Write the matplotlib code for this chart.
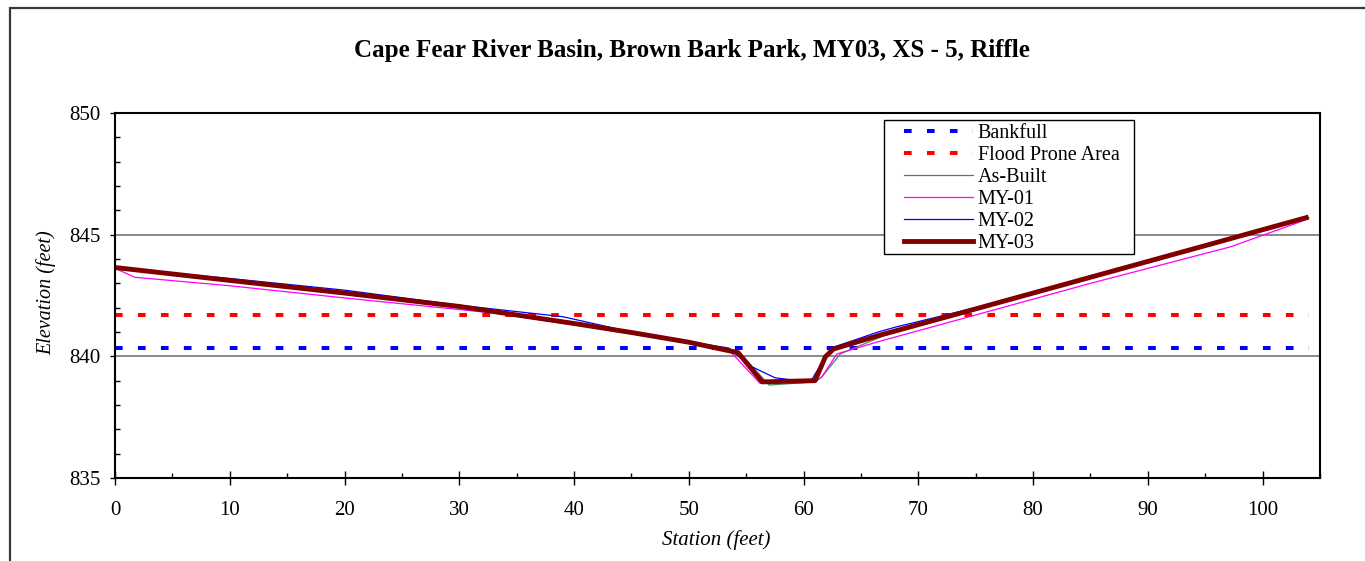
"""Cross-section survey plot: Cape Fear River Basin, Brown Bark Park, XS-5 riffle (MY03)."""
import matplotlib
matplotlib.use("Agg")
import matplotlib.pyplot as plt
from matplotlib.patches import Rectangle
from matplotlib.ticker import MultipleLocator

plt.rcParams["font.family"] = ["Liberation Serif", "DejaVu Serif"]

# survey data (station ft, elevation ft)
bankfull_elev = 840.33
flood_prone_elev = 841.7
ref_station = [0, 104]

asbuilt_sta = [0, 10, 20, 30, 40, 50, 52.7, 54.5, 57.0, 61.0, 61.6, 63.2, 67, 75, 85, 95, 104]
asbuilt_elev = [843.65, 843.1, 842.55, 842.0, 841.3, 840.55, 840.26, 840.1, 838.82, 838.95,
                839.16, 840.1, 840.85, 841.9, 843.2, 844.5, 845.7]

my01_sta = [0, 1.7, 10, 20, 33.2, 45, 50, 53.5, 56.2, 61.0, 61.6, 62.9, 66.5, 75, 85, 97.2, 104]
my01_elev = [843.62, 843.25, 842.9, 842.4, 841.77, 840.95, 840.55, 840.26, 838.89, 838.96,
             839.16, 840.1, 840.6, 841.7, 843.0, 844.5, 845.65]

my02_sta = [0, 10, 20, 30, 39, 45, 50, 53.5, 55.2, 57.5, 59.0, 60.7, 61.8, 62.75, 66.5, 68,
            75, 85, 95, 100, 104]
my02_elev = [843.65, 843.2, 842.72, 842.1, 841.63, 841.0, 840.6, 840.34, 839.64, 839.12,
             839.03, 839.03, 839.9, 840.4, 841.0, 841.2, 842.0, 843.3, 844.6, 845.2, 845.7]

my03_sta = [0, 10, 20, 30, 40, 45, 50, 54.3, 56.4, 61.0, 61.9, 62.6, 66.5, 75, 85, 95, 103.8]
my03_elev = [843.65, 843.12, 842.6, 842.05, 841.35, 840.98, 840.58, 840.15, 838.95, 839.0,
             839.98, 840.3, 840.85, 841.95, 843.25, 844.55, 845.7]

W, H = 1365, 561
fig = plt.figure(figsize=(W / 100, H / 100), dpi=100)
ax = fig.add_axes([115 / W, 1 - 478 / H, (1320 - 115) / W, (478 - 113) / H])

# outer chart frame (left and top edges in view)
fig.patches.append(Rectangle((10 / W, -0.2), 1.5, 1.2 - 8 / H, transform=fig.transFigure,
                             fill=False, edgecolor="#383838", linewidth=1.6))

ax.plot(ref_station, [bankfull_elev] * 2, color="#0000FF", lw=2.9,
        linestyle=(0, (1.9, 3.8)), label="Bankfull")
ax.plot(ref_station, [flood_prone_elev] * 2, color="#FF0000", lw=2.9,
        linestyle=(0, (1.9, 3.8)), label="Flood Prone Area")
ax.plot(asbuilt_sta, asbuilt_elev, color="#3C8C5A", lw=0.9, label="As-Built")
ax.plot(my01_sta, my01_elev, color="#FF00FF", lw=0.9, label="MY-01")
ax.plot(my02_sta, my02_elev, color="#0000FF", lw=0.9, label="MY-02")
ax.plot(my03_sta, my03_elev, color="#800000", lw=3.5, label="MY-03")

ax.set_xlim(0, 105)
ax.set_ylim(835, 850)
ax.xaxis.set_major_locator(MultipleLocator(10))
ax.xaxis.set_minor_locator(MultipleLocator(5))
ax.yaxis.set_major_locator(MultipleLocator(5))
ax.yaxis.set_minor_locator(MultipleLocator(1))
ax.set_xticks(range(0, 101, 10))
ax.yaxis.grid(True, which="major", color="#808080", lw=1.3)
ax.set_axisbelow(True)

ax.tick_params(axis="x", which="major", direction="inout", length=9.5, width=1,
               labelsize=15, pad=12)
ax.tick_params(axis="x", which="minor", direction="in", length=3.6, width=1)
ax.tick_params(axis="y", which="major", direction="out", length=3.6, width=1,
               labelsize=15, pad=7)
ax.tick_params(axis="y", which="minor", direction="in", length=3.6, width=1)
for side in ["left", "bottom", "right", "top"]:
    ax.spines[side].set_linewidth(1.5)
    ax.spines[side].set_color("black")

fig.text(692 / W, 1 - 50 / H, "Cape Fear River Basin, Brown Bark Park, MY03, XS - 5, Riffle",
         ha="center", va="center", fontsize=18, fontweight="bold")
fig.text(46 / W, 1 - 293 / H, "Elevation (feet)", rotation=90, ha="center", va="center",
         fontsize=14.5, style="italic")
fig.text(716 / W, 1 - 540 / H, "Station (feet)", ha="center", va="center",
         fontsize=15, style="italic")

# legend frame drawn separately so the side padding can be wider than the top/bottom
ax.add_patch(Rectangle((884 / W, 1 - 254 / H), (1134 - 884) / W, (254 - 120) / H,
                       transform=fig.transFigure, facecolor="white", edgecolor="black",
                       linewidth=1.0, zorder=4))
leg = ax.legend(loc="upper left", bbox_to_anchor=(903 / W, 1 - 123 / H),
                bbox_transform=fig.transFigure, borderaxespad=0, borderpad=0.05,
                fontsize=14.5, frameon=False, handlelength=3.45, handletextpad=0.2,
                labelspacing=0.14)
leg.set_zorder(5)

fig.savefig("out.png", dpi=100)
